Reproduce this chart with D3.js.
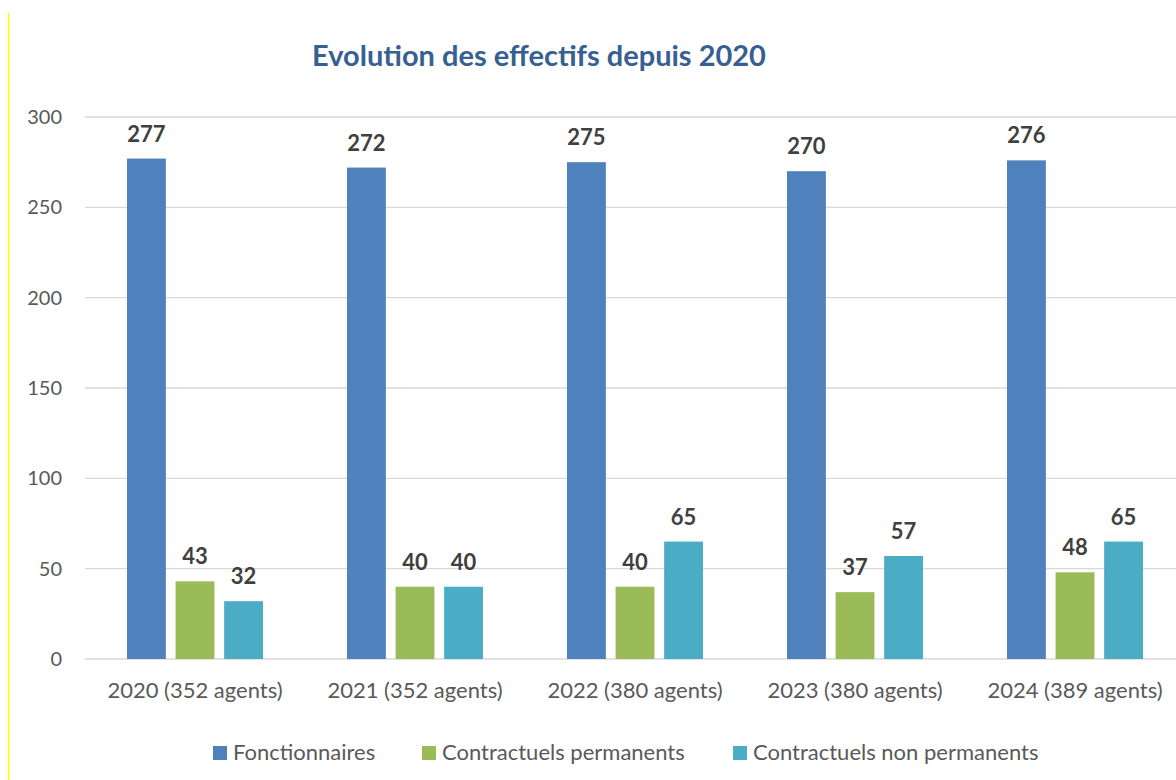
<!DOCTYPE html>
<html>
<head>
<meta charset="utf-8">
<script src="https://cdn.jsdelivr.net/npm/d3@7"></script>
<style>
  body { margin: 0; background: #fff; }
  svg { display: block; font-family: Lato, "Open Sans", sans-serif; }
</style>
</head>
<body>
<div id="chart"></div>
<script>
var categories = ['2020 (352 agents)', '2021 (352 agents)', '2022 (380 agents)', '2023 (380 agents)', '2024 (389 agents)'];
var series_names = ['Fonctionnaires', 'Contractuels permanents', 'Contractuels non permanents'];
var fonctionnaires = [277, 272, 275, 270, 276];
var contractuels_permanents = [43, 40, 40, 37, 48];
var contractuels_non_permanents = [32, 40, 65, 57, 65];
var y_ticks = [0, 50, 100, 150, 200, 250, 300];

var colors = ['#4F81BD', '#9BBB59', '#4BACC6'];
var chart_width = 1176;
var chart_height = 780;

var series = [fonctionnaires, contractuels_permanents, contractuels_non_permanents];

var svg = d3.select('#chart')
    .append('svg')
    .attr('width', chart_width)
    .attr('height', chart_height);

// bordure jaune a gauche
svg.append('line')
    .attr('x1', 8.5).attr('x2', 8.5)
    .attr('y1', 13).attr('y2', chart_height)
    .attr('stroke', '#FFFF00')
    .attr('stroke-width', 1.5);

// titre
svg.append('text')
    .attr('x', 539)
    .attr('y', 66)
    .attr('text-anchor', 'middle')
    .attr('font-size', 29)
    .attr('font-weight', 'bold')
    .attr('fill', '#376092')
    .text('Evolution des effectifs depuis 2020');

// echelles
var x_scale = d3.scaleBand()
    .domain(categories)
    .range([85, 1185]);

var x_inner = d3.scaleBand()
    .domain(d3.range(series.length))
    .range([0, 136])
    .paddingInner(0.2);

var y_scale = d3.scaleLinear()
    .domain([0, 300])
    .range([659, 117]);

// grille
svg.append('g')
    .selectAll('line')
    .data(y_ticks)
    .enter()
    .append('line')
    .attr('x1', 85)
    .attr('x2', chart_width)
    .attr('y1', function (d) { return y_scale(d); })
    .attr('y2', function (d) { return y_scale(d); })
    .attr('stroke', '#D9D9D9')
    .attr('stroke-width', 1.3);

// axe y
var y_axis = d3.axisLeft(y_scale)
    .tickValues(y_ticks)
    .tickSize(0)
    .tickPadding(0);

svg.append('g')
    .attr('transform', 'translate(62,0)')
    .call(y_axis)
    .call(function (g) { g.select('.domain').remove(); })
    .selectAll('text')
    .attr('font-size', 20)
    .attr('font-family', 'Lato, sans-serif')
    .attr('fill', '#595959');

// axe x
var x_axis = d3.axisBottom(x_scale)
    .tickSize(0)
    .tickPadding(0);

svg.append('g')
    .attr('transform', 'translate(0,682)')
    .call(x_axis)
    .call(function (g) { g.select('.domain').remove(); })
    .selectAll('text')
    .attr('font-size', 22)
    .attr('font-family', 'Lato, sans-serif')
    .attr('fill', '#595959');

// barres
var groups = svg.selectAll('g.serie')
    .data(series)
    .enter()
    .append('g')
    .attr('class', 'serie');

groups.selectAll('rect')
    .data(function (s, i) {
        return s.map(function (v, j) { return { v: v, s: i, c: categories[j] }; });
    })
    .enter()
    .append('rect')
    .attr('x', function (d) {
        return x_scale(d.c) + (x_scale.bandwidth() - 136) / 2 + x_inner(d.s);
    })
    .attr('y', function (d) { return y_scale(d.v); })
    .attr('width', x_inner.bandwidth())
    .attr('height', function (d) { return y_scale(0) - y_scale(d.v); })
    .attr('fill', function (d) { return colors[d.s]; });

// etiquettes
groups.selectAll('text')
    .data(function (s, i) {
        return s.map(function (v, j) { return { v: v, s: i, c: categories[j] }; });
    })
    .enter()
    .append('text')
    .attr('x', function (d) {
        return x_scale(d.c) + (x_scale.bandwidth() - 136) / 2 + x_inner(d.s) + x_inner.bandwidth() / 2;
    })
    .attr('y', function (d) { return y_scale(d.v) - 17; })
    .attr('text-anchor', 'middle')
    .attr('font-size', 22)
    .attr('font-weight', 'bold')
    .attr('fill', '#404040')
    .text(function (d) { return d.v; });

// legende
var legend_x = [213, 422, 733];
var legend = svg.selectAll('g.legende')
    .data(series_names)
    .enter()
    .append('g')
    .attr('class', 'legende')
    .attr('transform', function (d, i) { return 'translate(' + legend_x[i] + ',746)'; });

legend.append('rect')
    .attr('width', 14)
    .attr('height', 14)
    .attr('fill', function (d, i) { return colors[i]; });

legend.append('text')
    .attr('x', 20)
    .attr('y', 14)
    .attr('font-size', 22)
    .attr('fill', '#595959')
    .text(function (d) { return d; });
</script>
</body>
</html>
